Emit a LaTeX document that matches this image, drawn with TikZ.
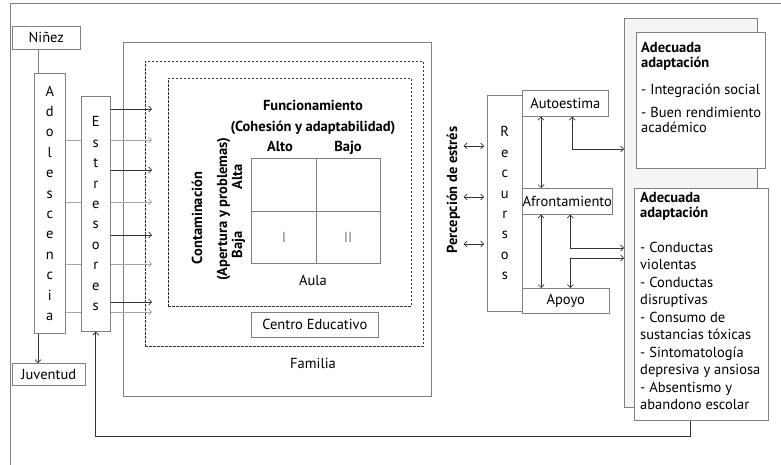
\documentclass[tikz,border=0pt]{standalone}
\usepackage{fontspec}
\setmainfont{PT Sans}
\usepackage{tikz}
\usetikzlibrary{arrows.meta}
\usetikzlibrary{positioning}
\colorlet{boxline}{black!50}
\colorlet{darkline}{black!80}
\colorlet{paleline}{black!35}
\newcommand\txt{\fontsize{14.5}{15}\selectfont}
\newcommand\stack{\fontsize{14.5}{20.4}\selectfont}
\tikzstyle{barbs}=[>/.tip={Straight Barb[length=3pt,width=6pt]}]
\tikzstyle{box}=[draw=boxline,fill=white,line width=.6pt,inner sep=0pt,anchor=north west,font=\txt]
\tikzstyle{vbox}=[box,align=center,font=\stack]
\tikzstyle{zone}=[draw=darkline,line width=.7pt,dash pattern=on 2.5pt off 1.5pt,inner sep=0pt,anchor=north west]
\tikzstyle{lbl}=[inner sep=0pt,anchor=base,font=\txt]
\tikzstyle{blbl}=[lbl,font=\txt\bfseries]
\tikzstyle{arr}=[line width=.7pt,barbs,->,darkline]
\tikzstyle{parr}=[line width=.6pt,barbs,->,paleline]
\tikzstyle{link}=[line width=.7pt,barbs,darkline]

\begin{document}
\begin{tikzpicture}[x=1pt,y=-1pt]
	\useasboundingbox (0,0) rectangle (781,465);
	\draw[boxline,line width=.6pt] (10,465) -- (10,3) -- (781,3);
	% life stages
	\coordinate (lx) at (38,0);
	\node[box,minimum width=68,minimum height=23] (ninez) at (12,26) {Niñez};
	\node[vbox,minimum width=31,minimum height=260] (adol) at (34,73) {A\\d\\o\\l\\e\\s\\c\\e\\n\\c\\i\\a};
	\node[box,minimum width=73,minimum height=22] (juv) at (12,363) {Juventud};
	\draw[boxline,line width=.7pt] (ninez.south -| lx) -- (adol.north -| lx);
	\draw[arr] (adol.south -| lx) -- (juv.north -| lx);
	% family, school, classroom
	\node[box,fill=none,minimum width=308,minimum height=354] (fam) at (123,42) {};
	\node[zone,minimum width=278,minimum height=285] (famzone) at (145,61) {};
	\node[zone,minimum width=243,minimum height=228] (aula) at (168,78) {};
	\node[box,minimum width=129,minimum height=105] (grid) at (251,158) {};
	\draw[boxline,line width=.6pt] (grid.north) -- (grid.south) (grid.west) -- (grid.east);
	\node[blbl] (func) at (313,111) {Funcionamiento};
	\node[blbl] (cohes) at (313,132) {(Cohesión y adaptabilidad)};
	\node[blbl] (alto) at (280,152) {Alto};
	\node[blbl] (bajo) at (348,152) {Bajo};
	\node[blbl,rotate=90] (contam) at (202,218) {Contaminación};
	\node[blbl,rotate=90] (apert) at (227,209) {(Apertura y problemas)};
	\node[blbl,rotate=90] (alta) at (242,177) {Alta};
	\node[blbl,rotate=90] (baja) at (242,245) {Baja};
	\node[lbl,text=boxline] (q1) at (284,242) {I};
	\node[lbl,text=boxline] (q2) at (348,242) {II};
	\node[lbl] (aulalbl) at (313,285) {Aula};
	\node[box,minimum width=127,minimum height=25] (centro) at (251,312) {Centro Educativo};
	\node[lbl] (famlbl) at (313,368) {Familia};
	% stressors
	\foreach \y in {140,202,264,312}
		\draw[parr] (adol.east |- 0,\y) -- (152,\y);
	\node[vbox,minimum width=29,minimum height=235] (estr) at (81,96) {E\\s\\t\\r\\e\\s\\o\\r\\e\\s};
	\foreach \y in {109,170,235,302}
		\draw[arr] (estr.east |- 0,\y) -- (152,\y);
	% resources
	\node[blbl,rotate=90] (perc) at (457,190) {Percepción de estrés};
	\node[vbox,minimum width=35,minimum height=216] (recur) at (487,95) {R\\e\\c\\u\\r\\s\\o\\s};
	\node[box,minimum width=86,minimum height=26] (autoe) at (522,90) {Autoestima};
	\node[box,minimum width=90,minimum height=26] (afront) at (522,188) {Afrontamiento};
	\node[box,minimum width=87,minimum height=25] (apoyo) at (522,288) {Apoyo};
	\foreach \y in {146,197,244}
		\draw[link,<->,shorten <=3.5pt,shorten >=3pt] (perc.south |- 0,\y) -- (recur.west |- 0,\y);
	\coordinate (rx) at (541,0);
	\draw[link,<->] (autoe.south -| rx) -- (afront.north -| rx);
	\draw[link,<->] (afront.south -| rx) -- (apoyo.north -| rx);
	% outcomes
	\node[box,fill=black!4,minimum width=133,minimum height=389] (outc) at (624,18) {};
	\node[box,minimum width=129,minimum height=136] (good) at (636,32) {};
	\node[box,minimum width=134,minimum height=232] (bad) at (634,188) {};
	\node[lbl,align=left,below right=10.5pt and 5pt of good.north west] (goodtxt) {\textbf{Adecuada}\\\textbf{adaptación}\\[12pt]- Integración social\\[8pt]- Buen rendimiento\\académico};
	\node[lbl,align=left,below right=4.5pt and 6pt of bad.north west] (badhead) {\textbf{Adecuada}\\\textbf{adaptación}};
	\node[lbl,align=left,font=\fontsize{14.5}{17.5}\selectfont,below right=53.5pt and 6pt of bad.north west] (badlist) {- Conductas\\violentas\\- Conductas\\disruptivas\\- Consumo de\\sustancias tóxicas\\- Sintomatología\\depresiva y ansiosa\\- Absentismo y\\abandono escolar};
	\draw[link,<->] ([xshift=7pt]autoe.south) |- (outc.west |- 0,149);
	\draw[link,<->] ([xshift=3pt]afront.south) |- (outc.west |- 0,248);
	\draw[link,<->] ([xshift=4.5pt]apoyo.north) |- (outc.west |- 0,258);
	% feedback to stressors
	\draw[arr,line width=.8pt] ([xshift=-11pt]bad.south) -- ++(0,16) -| (estr.south);
\end{tikzpicture}
\end{document}
